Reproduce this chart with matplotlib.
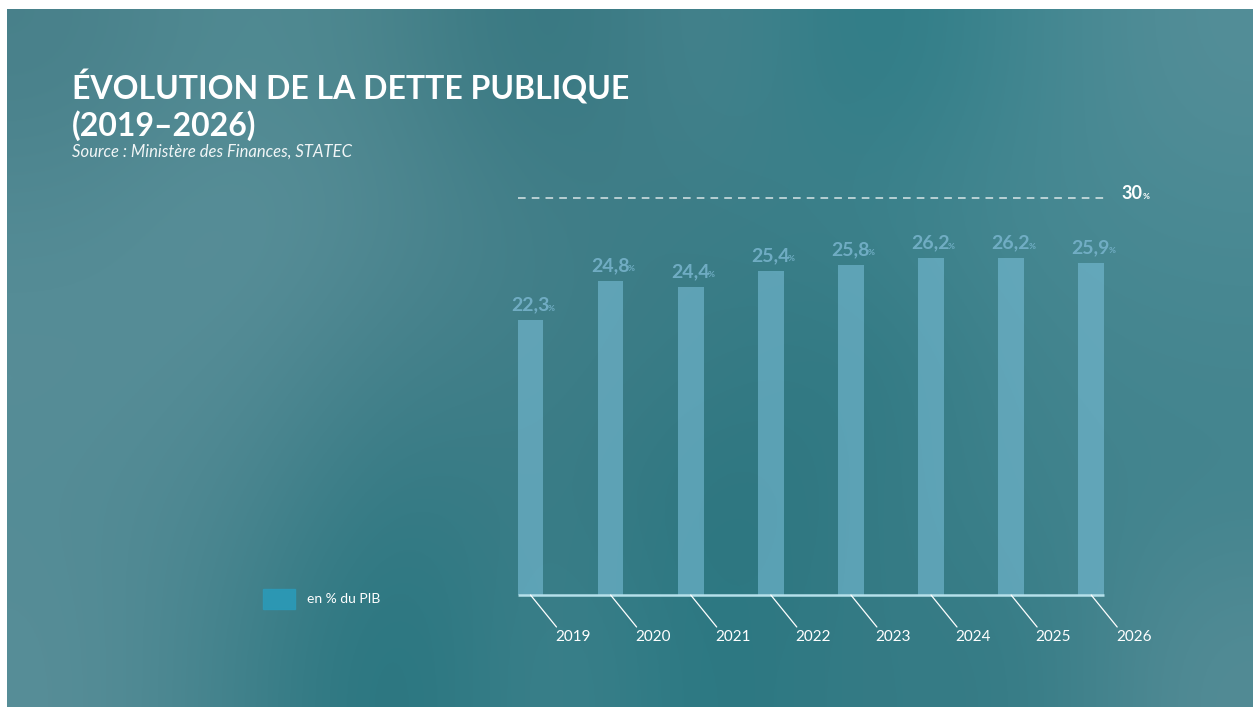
import matplotlib
matplotlib.use("Agg")
import matplotlib.pyplot as plt
import numpy as np
from matplotlib.patches import Rectangle

plt.rcParams['font.family'] = ['Lato', 'DejaVu Sans']

# data
years = ["2019", "2020", "2021", "2022", "2023", "2024", "2025", "2026"]
dette_pib = [22.3, 24.8, 24.4, 25.4, 25.8, 26.2, 26.2, 25.9]
value_labels = ["22,3", "24,8", "24,4", "25,4", "25,8", "26,2", "26,2", "25,9"]
seuil = 30
seuil_label = "30"

W, H = 1253, 707
fig = plt.figure(figsize=(W / 100, H / 100), dpi=100)
fig.patch.set_facecolor("white")

# blurry teal backdrop (hand-picked colour grid, smoothed)
bg = np.array([
    [(72, 128, 138), (82, 140, 148), (74, 132, 140), (50, 116, 126), (75, 134, 144), (42, 122, 132), (64, 134, 144), (84, 142, 152)],
    [(82, 138, 148), (92, 145, 155), (80, 136, 146), (66, 126, 136), (58, 124, 134), (62, 130, 140), (70, 136, 146), (74, 138, 148)],
    [(88, 142, 152), (84, 140, 150), (68, 128, 138), (62, 126, 136), (56, 124, 134), (46, 120, 130), (66, 132, 142), (70, 134, 144)],
    [(84, 140, 150), (76, 134, 144), (48, 120, 130), (62, 126, 136), (42, 116, 126), (52, 122, 132), (62, 130, 140), (66, 132, 142)],
    [(88, 142, 152), (66, 130, 140), (34, 114, 124), (66, 132, 142), (38, 118, 128), (56, 124, 134), (50, 122, 132), (84, 140, 150)],
]) / 255.0
bg_ax = fig.add_axes([7 / W, 0, 1 - 7 / W, (H - 9) / H])
bg_ax.imshow(bg, aspect="auto", interpolation="bicubic")
bg_ax.axis("off")

# chart axes: bar centres at 530 + 80.1*i px, baseline 595 px (=5), top 198 px (=30)
step = 80.1
x0 = 530.5 - 0.5 * step
ax = fig.add_axes([x0 / W, (H - 595) / H, 8 * step / W, (595 - 198) / H])
ax.set_xlim(-0.5, 7.5)
ax.set_ylim(5, 30)
ax.axis("off")
ax.patch.set_alpha(0)

x = np.arange(len(years))
bw = 0.32
ax.bar(x, dette_pib, width=bw, color="#78bdd6", alpha=0.6, zorder=2)

# baseline
ax.plot([-bw / 2, len(years) - 1 + bw / 2], [5, 5], color="#b5e0ea", lw=1.8,
        clip_on=False, zorder=3, solid_capstyle="butt")

# 30% reference line
ax.plot([-bw / 2, len(years) - 1 + bw / 2], [seuil, seuil], color="white", alpha=0.8,
        lw=1.1, ls=(0, (5, 4)), clip_on=False)
ax.annotate(seuil_label, (len(years) - 1 + bw / 2, seuil), xytext=(28, -1),
            textcoords="offset points", ha="right", va="baseline", color="white",
            fontsize=13, fontweight="bold", annotation_clip=False)
ax.annotate("%", (len(years) - 1 + bw / 2, seuil), xytext=(27.5, -1),
            textcoords="offset points", ha="left", va="baseline", color="white",
            fontsize=6, fontweight="bold", annotation_clip=False)

# value labels
for i, (v, lbl) in enumerate(zip(dette_pib, value_labels)):
    ax.annotate(lbl, (i, v), xytext=(13.5, 7), textcoords="offset points",
                ha="right", va="baseline", color="#76b2ca", alpha=0.9,
                fontsize=14, fontweight="bold")
    ax.annotate("%", (i, v), xytext=(12.3, 7), textcoords="offset points",
                ha="left", va="baseline", color="#76b2ca", alpha=0.9,
                fontsize=6, fontweight="bold")

# slanted ticks and years
for i, yr in enumerate(years):
    ax.annotate("", xy=(i, 5), xytext=(i + 26 / step, 5 - 32 / 15.88),
                arrowprops=dict(arrowstyle="-", color="white", lw=0.9, shrinkA=0, shrinkB=0),
                annotation_clip=False)
    ax.annotate(yr, (i, 5), xytext=(30.5, -30), textcoords="offset points",
                ha="center", va="center", color="white", fontsize=11,
                annotation_clip=False)

# titles
fig.text(72 / W, 1 - 87 / H, "ÉVOLUTION DE LA DETTE PUBLIQUE", color="white",
         fontsize=23, fontweight="bold", ha="left", va="center")
fig.text(72 / W, 1 - 126 / H, "(2019–2026)", color="white",
         fontsize=23, fontweight="bold", ha="left", va="center")
fig.text(72 / W, 1 - 152 / H, "Source : Ministère des Finances, STATEC", color="white",
         alpha=0.92, fontsize=12, style="italic", ha="left", va="center")

# legend
fig.patches.append(Rectangle((263 / W, 1 - 609 / H), 32 / W, 20 / H,
                             transform=fig.transFigure, color="#2b9ab8", alpha=0.9))
fig.text(307 / W, 1 - 599 / H, "en % du PIB", color="white", fontsize=10,
         ha="left", va="center")

fig.savefig("out.png", dpi=100)
